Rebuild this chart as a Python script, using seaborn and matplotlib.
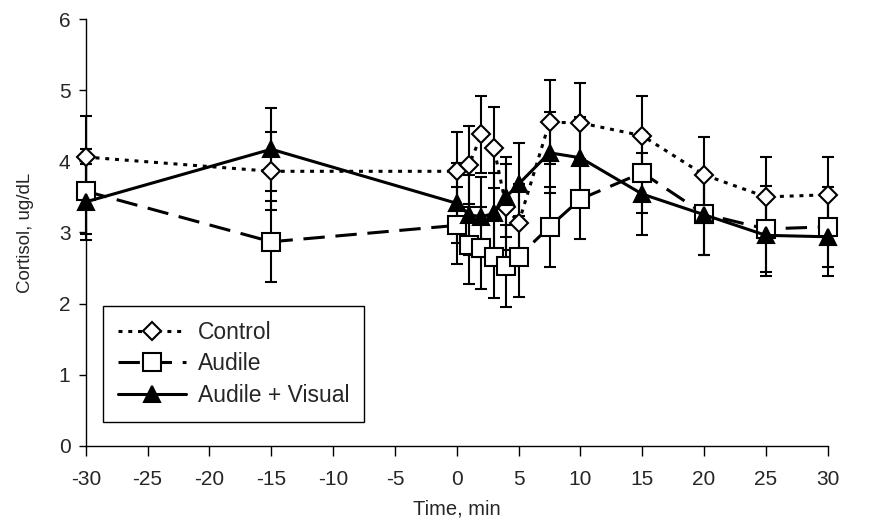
import matplotlib.pyplot as plt
import pandas as pd
import seaborn as sns

# cortisol means (ug/dL) and error bars
time_min = [-30, -15, 0, 1, 2, 3, 4, 5, 7.5, 10, 15, 20, 25, 30]
control = [4.06, 3.86, 3.86, 3.95, 4.38, 4.19, 3.36, 3.13, 4.55, 4.54, 4.36, 3.81, 3.50, 3.53]
audile = [3.58, 2.87, 3.10, 2.82, 2.78, 2.66, 2.53, 2.66, 3.08, 3.47, 3.84, 3.26, 3.05, 3.08]
audile_visual = [3.43, 4.17, 3.41, 3.25, 3.22, 3.27, 3.50, 3.68, 4.12, 4.05, 3.54, 3.25, 2.96, 2.94]
control_err = [0.58, 0.55, 0.55, 0.55, 0.54, 0.57, 0.60, 0.55, 0.59, 0.56, 0.56, 0.53, 0.56, 0.53]
audile_err = [0.60, 0.57, 0.54, 0.54, 0.58, 0.58, 0.58, 0.57, 0.56, 0.56, 0.57, 0.58, 0.60, 0.56]
av_err = [0.53, 0.58, 0.56, 0.56, 0.56, 0.56, 0.56, 0.58, 0.57, 0.58, 0.58, 0.57, 0.57, 0.55]

series = [
    ("Control", control, control_err, dict(marker="D", ms=9.5, mfc="white", linestyle=(0, (1.3, 1.9)))),
    ("Audile", audile, audile_err, dict(marker="s", ms=12.5, mfc="white", linestyle=(0, (7, 3.5)))),
    ("Audile + Visual", audile_visual, av_err, dict(marker="^", ms=11.5, mfc="black", linestyle="-")),
]

sns.set_style("white")
plt.rcParams["font.family"] = ["Liberation Sans", "DejaVu Sans"]
plt.rcParams["axes.unicode_minus"] = False

fig = plt.figure(figsize=(8.75, 5.21), dpi=100)
ax = fig.add_axes([0.098, 0.144, 0.848, 0.8195])

for i, (name, vals, errs, style) in enumerate(series):
    df = pd.DataFrame({"time": time_min, "cortisol": vals})
    ax.errorbar(time_min, vals, yerr=errs, fmt="none", ecolor="black",
                elinewidth=1.5, capsize=4.5, capthick=1.5, zorder=2 + i, clip_on=False)
    sns.lineplot(data=df, x="time", y="cortisol", ax=ax, color="black", lw=2.2,
                 mec="black", mew=1.5, label=name, zorder=5 + i, clip_on=False,
                 **style)

ax.set_xlim(-30, 30)
ax.set_ylim(0, 6)
ax.set_xticks(range(-30, 31, 5))
ax.set_yticks(range(0, 7))
ax.set_xlabel("Time, min", fontsize=14.5, labelpad=8)
ax.set_ylabel("Cortisol, ug/dL", fontsize=13.5, labelpad=18)
ax.tick_params(axis="both", direction="out", width=1, color="black",
               labelsize=15, bottom=True, left=True)
ax.tick_params(axis="x", length=7, pad=10)
ax.tick_params(axis="y", length=5, pad=6)
for side in ["top", "right"]:
    ax.spines[side].set_visible(False)
for side in ["left", "bottom"]:
    ax.spines[side].set_color("black")
    ax.spines[side].set_linewidth(1)

leg = ax.legend(loc="lower left", bbox_to_anchor=(0.023, 0.056), borderaxespad=0,
                fontsize=16.5, handlelength=3.0, handletextpad=0.5, labelspacing=0.38,
                borderpad=0.65, fancybox=False, framealpha=1, edgecolor="black")
leg.get_frame().set_linewidth(1)

fig.savefig("out.png", dpi=100)
